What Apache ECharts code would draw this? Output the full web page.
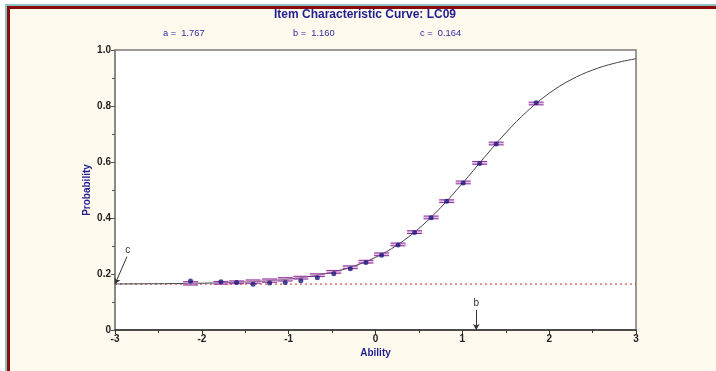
<!DOCTYPE html>
<html>
<head>
<meta charset="utf-8">
<script src="https://cdn.jsdelivr.net/npm/echarts@6/dist/echarts.min.js"></script>
<style>
  html, body { margin:0; padding:0; background:#ffffff; }
  #wrap { position:absolute; left:0; top:0; width:716px; height:371px; overflow:hidden; background:#ffffff; }
  #frame1 { position:absolute; left:5px; top:4px; width:720px; height:380px; background:#8ec3c6; }
  #frame2 { position:absolute; left:7px; top:6px; width:720px; height:380px; background:#8b0a0a; }
  #frame3 { position:absolute; left:10px; top:9px; width:720px; height:380px; background:#fff9ee; }
  #chart { position:absolute; left:0; top:0; width:716px; height:371px; }
</style>
</head>
<body>
<div id="wrap">
  <div id="frame1"></div><div id="frame2"></div><div id="frame3"></div>
  <div id="chart"></div>
</div>
<script>
// ---- data ----
const itemName = 'LC09';
const paramA = '1.767';
const paramB = '1.160';
const paramC = '0.164';
const bValue = 1.16;
const cValue = 0.164;

// fitted ICC curve
const curveTheta = [-3, -2.5, -2, -1.5, -1.25, -1, -0.75, -0.5, -0.25, 0, 0.25, 0.5, 0.75, 1, 1.25, 1.5, 1.75, 2, 2.25, 2.5, 2.75, 3];
const curveProb  = [0.1645, 0.1653, 0.1671, 0.1715, 0.1757, 0.1820, 0.1917, 0.2063, 0.2280, 0.2594, 0.3035, 0.3626, 0.4369, 0.5233, 0.6152, 0.7039, 0.7820, 0.8455, 0.8937, 0.9284, 0.9525, 0.9688];

// observed group points
const groupTheta = [-2.13, -1.78, -1.60, -1.41, -1.22, -1.04, -0.86, -0.67, -0.48, -0.29, -0.11, 0.07, 0.26, 0.45, 0.64, 0.82, 1.01, 1.20, 1.39, 1.85];
const observedProb = [0.175, 0.172, 0.170, 0.163, 0.168, 0.170, 0.176, 0.187, 0.201, 0.219, 0.241, 0.267, 0.304, 0.348, 0.401, 0.460, 0.525, 0.595, 0.664, 0.812];
// error-bar centres (expected) and half-heights
const expectedProb = [0.1665, 0.1686, 0.1703, 0.1728, 0.1763, 0.1808, 0.1869, 0.1957, 0.2077, 0.2240, 0.2440, 0.2703, 0.3056, 0.3495, 0.4020, 0.4600, 0.5270, 0.5970, 0.6660, 0.8090];
const errHalf = [0.006, 0.005, 0.005, 0.006, 0.006, 0.006, 0.005, 0.005, 0.005, 0.005, 0.005, 0.005, 0.005, 0.005, 0.005, 0.005, 0.005, 0.005, 0.005, 0.005];

const yTicks = [0, 0.2, 0.4, 0.6, 0.8, 1.0];
const xTicks = [-3, -2, -1, 0, 1, 2, 3];

// ---- build ----
const navy = '#1f1f8f';
const font = '"Liberation Sans", Arial, sans-serif';
const chart = echarts.init(document.getElementById('chart'), null, {renderer:'canvas'});

const curveData = curveTheta.map((t, i) => [t, curveProb[i]]);
const obsData = groupTheta.map((t, i) => [t, observedProb[i]]);
const errData = groupTheta.map((t, i) => [t, expectedProb[i] - errHalf[i], expectedProb[i] + errHalf[i]]);

const option = {
  animation: false,
  backgroundColor: 'transparent',
  textStyle: { fontFamily: font },
  grid: { left: 115, right: 80, top: 50, bottom: 41, show: true, backgroundColor: '#ffffff', borderColor: '#7a7a7a', borderWidth: 1.5 },
  graphic: [
    { type: 'text', x: 365, y: 15, style: { text: 'Item Characteristic Curve: ' + itemName, fill: navy, font: 'bold 12px ' + font, textAlign: 'center', textVerticalAlign: 'middle' } },
    { type: 'text', x: 163, y: 33.5, style: { text: 'a =  ' + paramA, fill: '#2b2ba0', font: '9.3px ' + font, textAlign: 'left', textVerticalAlign: 'middle' } },
    { type: 'text', x: 293, y: 33.5, style: { text: 'b =  ' + paramB, fill: '#2b2ba0', font: '9.3px ' + font, textAlign: 'left', textVerticalAlign: 'middle' } },
    { type: 'text', x: 420, y: 33.5, style: { text: 'c =  ' + paramC, fill: '#2b2ba0', font: '9.3px ' + font, textAlign: 'left', textVerticalAlign: 'middle' } }
  ],
  xAxis: {
    type: 'value', min: xTicks[0], max: xTicks[xTicks.length - 1], interval: 1,
    name: 'Ability', nameLocation: 'middle', nameGap: 18, nameMoveOverlap: false,
    nameTextStyle: { color: navy, fontWeight: 'bold', fontSize: 10, fontFamily: font },
    axisLine: { show: true, onZero: false, lineStyle: { color: '#333333', width: 1.5 } },
    axisTick: { show: true, length: 4, lineStyle: { color: '#333333' } },
    minorTick: { show: true, splitNumber: 2, length: 3, lineStyle: { color: '#333333' } },
    splitLine: { show: false },
    axisLabel: { color: '#222222', fontWeight: 'bold', fontSize: 10, margin: 4, fontFamily: font }
  },
  yAxis: {
    type: 'value', min: yTicks[0], max: yTicks[yTicks.length - 1], interval: 0.2,
    name: 'Probability', nameLocation: 'middle', nameGap: 23, nameRotate: 90, nameMoveOverlap: false,
    nameTextStyle: { color: navy, fontWeight: 'bold', fontSize: 10, fontFamily: font },
    axisLine: { show: true, onZero: false, lineStyle: { color: '#8a8a8a', width: 2 } },
    axisTick: { show: true, length: 4, lineStyle: { color: '#555555' } },
    minorTick: { show: true, splitNumber: 2, length: 3, lineStyle: { color: '#555555' } },
    splitLine: { show: false },
    axisLabel: { color: '#222222', fontWeight: 'bold', fontSize: 10, margin: 4, fontFamily: font,
      formatter: v => v === 0 ? '0' : v.toFixed(1) }
  },
  series: [
    {
      type: 'line', data: [[xTicks[0], cValue], [xTicks[xTicks.length - 1], cValue]],
      symbol: 'none', silent: true, z: 2,
      lineStyle: { color: '#cc2a2a', width: 1, type: [2, 3] }
    },
    {
      type: 'line', data: curveData, smooth: 0.4, symbol: 'none', z: 3,
      lineStyle: { color: '#444444', width: 1 },
      markLine: {
        silent: true, symbol: ['none', 'arrow'], symbolSize: [5, 6], animation: false,
        lineStyle: { color: '#333333', width: 1, type: 'solid' },
        label: { show: true, position: 'start', color: '#333333', fontSize: 10, fontFamily: font, distance: 2 },
        data: [
          [ { coord: [-2.862, 0.262], name: 'c', label: { formatter: 'c' } }, { coord: [xTicks[0], cValue] } ],
          [ { coord: [bValue, 0.072], name: 'b', label: { formatter: 'b' } }, { coord: [bValue, 0] } ]
        ]
      }
    },
    {
      type: 'custom', z: 4,
      data: errData,
      renderItem: function (params, api) {
        const x = api.coord([api.value(0), 0])[0];
        const yl = api.coord([0, api.value(1)])[1];
        const yh = api.coord([0, api.value(2)])[1];
        const hw = 7.5;
        return {
          type: 'group',
          children: [
            { type: 'rect', shape: { x: x - hw, y: yh, width: hw * 2, height: yl - yh }, style: { fill: 'rgba(205,140,210,0.55)' } },
            { type: 'line', shape: { x1: x - hw, y1: yh, x2: x + hw, y2: yh }, style: { stroke: '#8e2a9a', lineWidth: 1 } },
            { type: 'line', shape: { x1: x - hw, y1: yl, x2: x + hw, y2: yl }, style: { stroke: '#8e2a9a', lineWidth: 1 } }
          ]
        };
      }
    },
    {
      type: 'scatter', data: obsData, z: 5,
      symbol: 'circle', symbolSize: 5,
      itemStyle: { color: '#1a1a7a' }
    }
  ]
};
chart.setOption(option);
</script>
</body>
</html>
